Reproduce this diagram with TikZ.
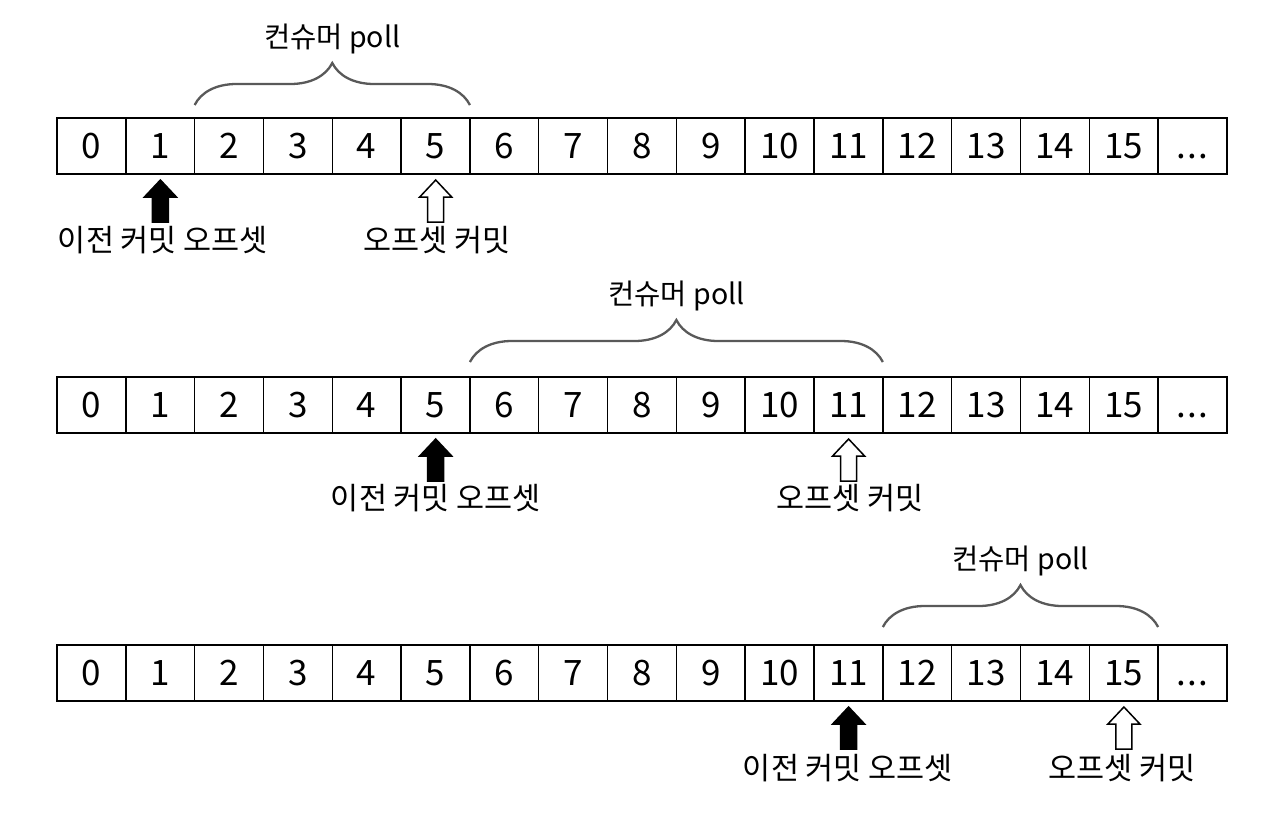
\documentclass[tikz,border=0pt]{standalone}
\usepackage{fontspec}
\setmainfont{Noto Sans CJK KR}
\usetikzlibrary{decorations.pathreplacing,calc}
\tikzset{
  cell/.style={draw=black, line width=1.5pt, minimum width=68.82pt, minimum height=56pt, inner sep=0pt, outer sep=0pt, font=\fontsize{35}{35}\selectfont},
  lbl/.style={font=\fontsize{30.5}{30.5}\selectfont, inner sep=0pt},
  plbl/.style={font=\fontsize{28.5}{28.5}\selectfont, inner sep=0pt},
  pollbrace/.style={draw=black!65, line width=2.3pt, decorate, decoration={brace, amplitude=42pt}},
  blkarrow/.style={draw=black, line width=1.5pt, fill=black},
  wharrow/.style={draw=black, line width=1.5pt, fill=white},
}
\newcommand{\uparr}[3]{% style, x, top y
  \draw[#1] (#2-8,#3+42) -- (#2-8,#3+17) -- (#2-16,#3+17) -- (#2,#3) -- (#2+16,#3+17) -- (#2+8,#3+17) -- (#2+8,#3+42) -- cycle;}
\begin{document}
\begin{tikzpicture}[x=1pt,y=-1pt]
\useasboundingbox[fill=white] (0,0) rectangle (1269,823);
% rows
\foreach \r/\y in {1/146, 2/405, 3/673}{
  \foreach \i in {0,...,15}{
    \node[cell] (r\r c\i) at ({57+68.82*(\i+0.5)},\y) {\i};
  }
  \node[cell] (r\r c16) at ({57+68.82*16.5},\y) {\vphantom{0}.\kern1pt.\kern1pt.};
}
% braces
\draw[pollbrace] ($(r1c2.north west)+(0,-13)$) -- ($(r1c5.north east)+(0,-13)$) node[midway, above=50pt, plbl] (p1) {컨슈머 poll};
\draw[pollbrace] ($(r2c6.north west)+(0,-15)$) -- ($(r2c11.north east)+(0,-15)$) node[midway, above=50pt, plbl] (p2) {컨슈머 poll};
\draw[pollbrace] ($(r3c12.north west)+(0,-18)$) -- ($(r3c15.north east)+(0,-18)$) node[midway, above=50pt, plbl] (p3) {컨슈머 poll};
% arrows
\uparr{blkarrow}{160.4}{180}
\uparr{wharrow}{435.7}{180}
\uparr{blkarrow}{435.7}{439}
\uparr{wharrow}{848.6}{439}
\uparr{blkarrow}{848.6}{707}
\uparr{wharrow}{1123.9}{707}
% labels
\node[lbl] (l1a) at (163,240) {이전 커밋 오프셋};
\node[lbl] (l1b) at (437,240) {오프셋 커밋};
\node[lbl] (l2a) at (436,498) {이전 커밋 오프셋};
\node[lbl] (l2b) at (850,498) {오프셋 커밋};
\node[lbl] (l3a) at (848,768) {이전 커밋 오프셋};
\node[lbl] (l3b) at (1122,768) {오프셋 커밋};
\end{tikzpicture}
\end{document}
